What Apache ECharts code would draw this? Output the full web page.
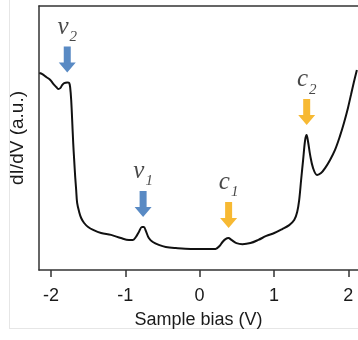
<!DOCTYPE html>
<html>
<head>
<meta charset="utf-8">
<script src="https://cdn.jsdelivr.net/npm/echarts@6/dist/echarts.min.js"></script>
<style>
  html, body { margin: 0; padding: 0; background: #fff; }
  #chart { width: 358px; height: 340px; }
</style>
</head>
<body>
<div id="chart"></div>
<script>
// Tunnelling spectrum: sample bias (V) vs dI/dV (arbitrary units)
const biasV = [
  -2.155, -2.115, -2.062, -2.008, -1.968, -1.928, -1.901, -1.874, -1.847, -1.821,
  -1.780, -1.754, -1.740, -1.727, -1.714, -1.700, -1.687, -1.673, -1.660, -1.647,
  -1.620, -1.593, -1.553, -1.499, -1.432, -1.325, -1.191, -1.058, -0.950, -0.897,
  -0.857, -0.817, -0.776, -0.750, -0.723, -0.683, -0.629, -0.549, -0.455, -0.321,
  -0.120, 0.080, 0.214, 0.268, 0.308, 0.348, 0.388, 0.428, 0.495, 0.576,
  0.683, 0.790, 0.897, 1.004, 1.111, 1.205, 1.272, 1.312, 1.339, 1.365,
  1.392, 1.419, 1.439, 1.459, 1.486, 1.526, 1.580, 1.633, 1.687, 1.754,
  1.821, 1.888, 1.941, 1.995, 2.035, 2.075, 2.115
];
const dIdV = [
  7.46, 7.42, 7.31, 7.20, 7.05, 6.93, 6.86, 6.89, 7.01, 7.08,
  7.10, 7.08, 6.89, 6.44, 5.68, 4.81, 4.17, 3.52, 3.03, 2.54,
  2.20, 1.97, 1.78, 1.63, 1.52, 1.40, 1.33, 1.21, 1.14, 1.14,
  1.25, 1.44, 1.63, 1.63, 1.48, 1.21, 1.06, 0.95, 0.87, 0.83,
  0.80, 0.80, 0.80, 0.91, 1.06, 1.17, 1.21, 1.14, 1.02, 0.98,
  1.02, 1.14, 1.29, 1.40, 1.55, 1.70, 1.89, 2.20, 2.65, 3.41,
  4.17, 4.92, 5.11, 4.85, 4.36, 3.86, 3.60, 3.67, 3.86, 4.17,
  4.55, 5.08, 5.57, 6.14, 6.63, 7.12, 7.58
];
const xTicks = [-2, -1, 0, 1, 2];

// Marked states: valence (v) and conduction (c) features
const peakLetter = ['v', 'v', 'c', 'c'];
const peakIndex = ['2', '1', '1', '2'];
const peakBias = [-1.78, -0.76, 0.39, 1.44];
const peakSignal = [7.10, 1.63, 1.21, 5.11];

const bandColor = { v: '#2f6db5', c: '#f5a700' };
const sansFont = '"Liberation Sans", Arial, sans-serif';
const serifFont = '"Liberation Serif", "Times New Roman", serif';
const arrowPath = 'path://M5,0 L12,0 L12,16 L17,16 L8.5,26 L0,16 L5,16 Z';

const curve = biasV.map((x, i) => [x, dIdV[i]]);
const marks = peakBias.map((x, i) => ({
  value: [x, peakSignal[i]],
  itemStyle: { color: bandColor[peakLetter[i]] },
  label: { formatter: '{a|' + peakLetter[i] + '}{b|' + peakIndex[i] + '}' }
}));

const chart = echarts.init(document.getElementById('chart'), null, { renderer: 'canvas' });
chart.setOption({
  animation: false,
  backgroundColor: '#fff',
  grid: { left: 38, right: 0, top: 6, bottom: 70 },
  xAxis: [{
    type: 'value', position: 'bottom', min: -2.16, max: 2.13,
    name: 'Sample bias (V)', nameLocation: 'middle', nameGap: 41,
    nameTextStyle: { fontFamily: sansFont, fontSize: 18, color: '#1a1a1a' },
    axisLine: { show: true, onZero: false, lineStyle: { color: '#333', width: 1.5 } },
    axisTick: { show: true, inside: false, length: 7, customValues: xTicks, lineStyle: { color: '#333', width: 1.5 } },
    axisLabel: { customValues: xTicks, margin: 17, fontFamily: sansFont, fontSize: 18, color: '#1a1a1a' },
    splitLine: { show: false }
  }, {
    type: 'value', position: 'top', min: -2.16, max: 2.13,
    axisLine: { show: true, onZero: false, lineStyle: { color: '#333', width: 1.5 } },
    axisTick: { show: false }, axisLabel: { show: false }, splitLine: { show: false }
  }],
  yAxis: {
    type: 'value', min: 0, max: 10,
    name: 'dI/dV (a.u.)', nameLocation: 'middle', nameGap: 12,
    nameTextStyle: { fontFamily: sansFont, fontSize: 19, color: '#1a1a1a' },
    axisLine: { show: true, onZero: false, lineStyle: { color: '#333', width: 1.5 } },
    axisTick: { show: false }, axisLabel: { show: false }, splitLine: { show: false }
  },
  graphic: [
    { type: 'line', shape: { x1: 9.5, y1: 0, x2: 9.5, y2: 329 }, style: { stroke: '#e6e6e6', lineWidth: 1 }, silent: true },
    { type: 'line', shape: { x1: 9, y1: 328.5, x2: 358, y2: 328.5 }, style: { stroke: '#e6e6e6', lineWidth: 1 }, silent: true }
  ],
  series: [{
    type: 'line', data: curve, smooth: 0.35, showSymbol: false,
    lineStyle: { color: '#111', width: 2 }, z: 3
  }, {
    type: 'scatter', data: marks, symbol: arrowPath, symbolSize: [17, 26],
    symbolOffset: [0, -23], z: 4,
    label: {
      show: true, position: 'top', distance: 2,
      rich: {
        a: { fontFamily: serifFont, fontStyle: 'italic', fontSize: 25, color: '#1a1a1a', verticalAlign: 'bottom', padding: [0, 1, 5, 0] },
        b: { fontFamily: serifFont, fontStyle: 'italic', fontSize: 15, color: '#1a1a1a', verticalAlign: 'bottom' }
      }
    }
  }]
});
</script>
</body>
</html>
